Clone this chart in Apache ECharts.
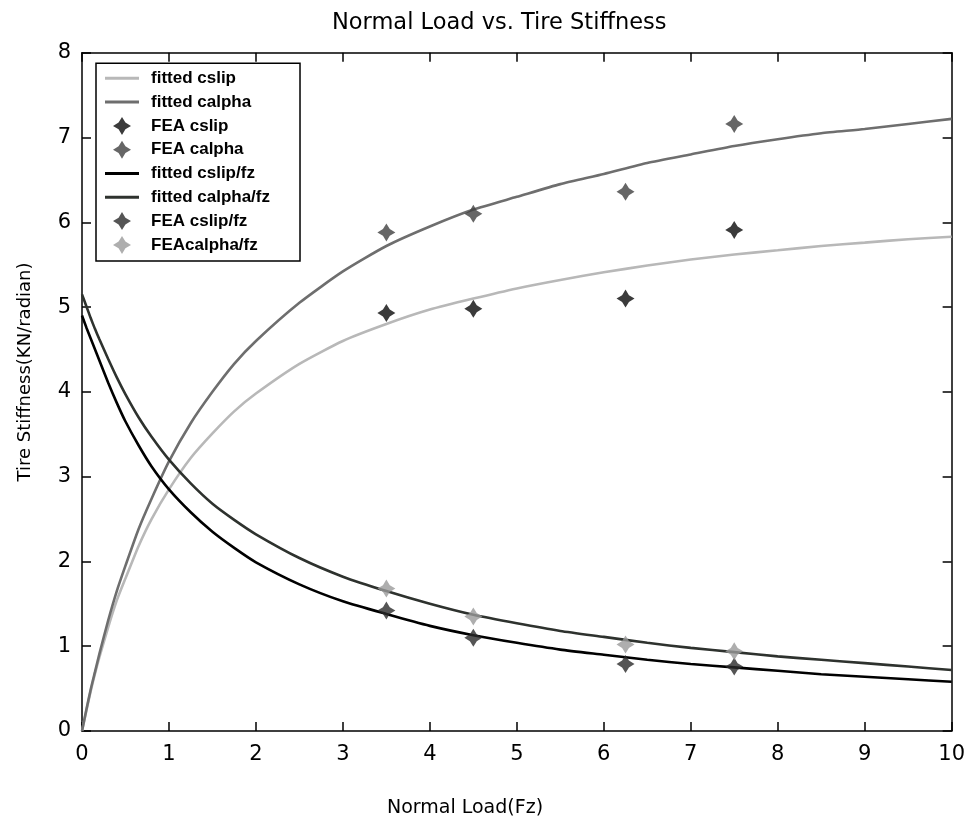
<!DOCTYPE html>
<html>
<head>
<meta charset="utf-8">
<script src="https://cdn.jsdelivr.net/npm/echarts@6/dist/echarts.min.js"></script>
<style>html,body{margin:0;padding:0;background:#fff}#c{width:968px;height:830px}</style>
</head>
<body>
<div id="c"></div>
<script>
// ---- data ----
const titleText = 'Normal Load vs. Tire Stiffness';
const xName = 'Normal Load(Fz)';
const yName = 'Tire Stiffness(KN/radian)';
const xTicks = [0,1,2,3,4,5,6,7,8,9,10];
const yTicks = [0,1,2,3,4,5,6,7,8];

const xFit = [0,0.05,0.1,0.15,0.2,0.3,0.4,0.5,0.65,0.8,1,1.25,1.5,1.75,2,2.5,3,3.5,4,4.5,5,5.5,6,6.5,7,7.5,8,8.5,9,9.5,10];
const fittedCslip = [0,0.24,0.47,0.68,0.87,1.22,1.54,1.8,2.18,2.5,2.85,3.22,3.51,3.77,3.98,4.33,4.6,4.8,4.97,5.1,5.22,5.32,5.41,5.49,5.56,5.62,5.67,5.72,5.76,5.8,5.83];
const fittedCalpha = [0,0.25,0.49,0.7,0.91,1.3,1.65,1.95,2.38,2.74,3.18,3.63,4.0,4.33,4.6,5.05,5.42,5.72,5.95,6.15,6.3,6.45,6.57,6.7,6.8,6.9,6.98,7.05,7.1,7.16,7.22];
const fittedCslipFz = [4.9,4.76,4.63,4.5,4.37,4.11,3.87,3.65,3.37,3.12,2.85,2.58,2.35,2.16,1.99,1.73,1.53,1.38,1.24,1.13,1.04,0.96,0.9,0.84,0.79,0.75,0.71,0.67,0.64,0.61,0.58];
const fittedCalphaFz = [5.15,5.01,4.87,4.74,4.62,4.39,4.17,3.97,3.7,3.47,3.2,2.92,2.68,2.49,2.32,2.04,1.82,1.65,1.5,1.37,1.27,1.18,1.11,1.04,0.98,0.93,0.88,0.84,0.8,0.76,0.72];

const xFEA = [3.5,4.5,6.25,7.5];
const feaCslip = [4.93,4.98,5.10,5.91];
const feaCalpha = [5.88,6.10,6.36,7.16];
const feaCslipFz = [1.42,1.10,0.79,0.76];
const feaCalphaFz = [1.68,1.35,1.02,0.94];

const names = ['fitted cslip','fitted calpha','FEA cslip','FEA calpha','fitted cslip/fz','fitted calpha/fz','FEA cslip/fz','FEAcalpha/fz'];
const isLine = [true,true,false,false,true,true,false,false];

// ---- build ----
const pair = (xs, ys) => xs.map((x, i) => [x, ys[i]]);
const star = 'path://M0,-10 L3.8,-3.8 L10,0 L3.8,3.8 L0,10 L-3.8,3.8 L-10,0 L-3.8,-3.8 Z';
const lineIcon = 'path://M0,0 L34,0 L34,3 L0,3 Z';
const FONT = 'DejaVu Sans';

function lineSeries(name, ys, color) {
  return { name, type: 'line', data: pair(xFit, ys), smooth: 0.2, symbol: 'none', showSymbol: false,
    lineStyle: { color, width: 2.6 }, itemStyle: { color }, z: 2 };
}
function scatterSeries(name, ys, color) {
  return { name, type: 'scatter', data: pair(xFEA, ys), symbol: star, symbolSize: 18,
    itemStyle: { color }, z: 5 };
}

const axisCommon = {
  axisLine: { show: true, onZero: false, lineStyle: { color: '#000', width: 1.5 } },
  axisTick: { show: true, inside: true, length: 9, lineStyle: { color: '#000', width: 1.5 } },
  splitLine: { show: false }
};

const chart = echarts.init(document.getElementById('c'), null, { renderer: 'canvas' });
chart.setOption({
  backgroundColor: '#fff',
  animation: false,
  grid: { left: 82, right: 16, top: 52.7, bottom: 99, containLabel: false },
  xAxis: [
    Object.assign({ type: 'value', min: xTicks[0], max: xTicks[xTicks.length-1], interval: 1, position: 'bottom',
      axisLabel: { color: '#000', fontFamily: FONT, fontSize: 21, margin: 13 } }, axisCommon),
    Object.assign({ type: 'value', min: xTicks[0], max: xTicks[xTicks.length-1], interval: 1, position: 'top',
      axisLabel: { show: false } }, axisCommon)
  ],
  yAxis: [
    Object.assign({ type: 'value', min: yTicks[0], max: yTicks[yTicks.length-1], interval: 1, position: 'left',
      axisLabel: { color: '#000', fontFamily: FONT, fontSize: 21, margin: 11 } }, axisCommon),
    Object.assign({ type: 'value', min: yTicks[0], max: yTicks[yTicks.length-1], interval: 1, position: 'right',
      axisLabel: { show: false } }, axisCommon)
  ],
  legend: {
    orient: 'vertical', left: 96, top: 63.3,
    padding: [5, 30, 6, 9],
    itemWidth: 34, itemHeight: 18, itemGap: 3.8,
    borderColor: '#000', borderWidth: 1.5, backgroundColor: '#fff',
    textStyle: { color: '#000', fontFamily: 'Liberation Sans', fontWeight: 'bold', fontSize: 17, lineHeight: 20, padding: [0,0,0,7] },
    data: names.map((n, i) => ({ name: n, icon: isLine[i] ? lineIcon : star })),
    z: 10
  },
  graphic: [
    { type: 'text', left: 332, top: 12, style: { text: titleText, fontFamily: FONT, fontSize: 22.5, fill: '#000' } },
    { type: 'text', x: 465, y: 808, style: { text: xName, fontFamily: FONT, fontSize: 19, fill: '#000', align: 'center', verticalAlign: 'middle' } },
    { type: 'text', x: 25, y: 372, rotation: Math.PI / 2, style: { text: yName, fontFamily: FONT, fontSize: 18, fill: '#000', align: 'center', verticalAlign: 'middle' } }
  ],
  series: [
    lineSeries(names[0], fittedCslip, '#b8b8b8'),
    lineSeries(names[1], fittedCalpha, '#6e6e6e'),
    scatterSeries(names[2], feaCslip, '#0a0a0a'),
    scatterSeries(names[3], feaCalpha, '#404040'),
    lineSeries(names[4], fittedCslipFz, '#000000'),
    lineSeries(names[5], fittedCalphaFz, '#2e322e'),
    scatterSeries(names[6], feaCslipFz, '#2a2a2a'),
    scatterSeries(names[7], feaCalphaFz, '#9a9a9a')
  ]
});
</script>
</body>
</html>
